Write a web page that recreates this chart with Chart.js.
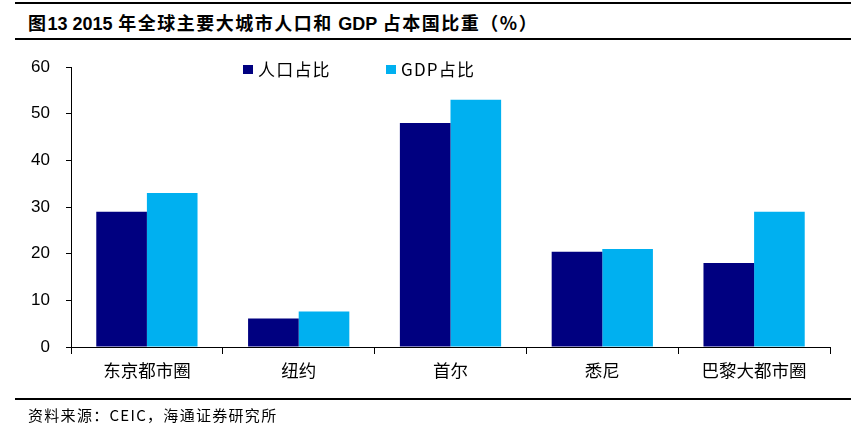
<!DOCTYPE html>
<html>
<head>
<meta charset="utf-8">
<script src="https://cdn.jsdelivr.net/npm/chart.js@4"></script>
<style>
  body { margin: 0; width: 858px; height: 433px; background: #fff; position: relative; overflow: hidden; }
  .rule { position: absolute; left: 15px; width: 836px; background: #000; }
  #title { position: absolute; left: 28px; top: 9px; font: bold 18px "Noto Sans CJK SC", sans-serif; letter-spacing: 1.5px; line-height: 26px; white-space: nowrap; color: #000; }
  #title b { font-family: "Liberation Sans", Arial, sans-serif; letter-spacing: 0; }
  #source { position: absolute; left: 28px; top: 404px; font: 15px "Noto Sans CJK SC", sans-serif; letter-spacing: 1.3px; line-height: 22px; white-space: nowrap; color: #000; }
  #legend { position: absolute; top: 58px; left: 0; font: 17px "Noto Sans CJK SC", sans-serif; line-height: 22px; color: #000; }
  #legend span { position: absolute; white-space: nowrap; letter-spacing: 1.2px; }
  #legend i { position: absolute; width: 10px; height: 9px; top: 7px; }
  #chartBox { position: absolute; left: 0; top: 0; width: 858px; height: 433px; }
</style>
</head>
<body>
<div class="rule" style="top:2px;height:2px"></div>
<div id="title">图<b>13 2015</b> 年全球主要大城市人口和 <b>GDP</b> 占本国比重（%）</div>
<div class="rule" style="top:38px;height:2px"></div>
<div id="chartBox"><canvas id="cityChart" width="858" height="433"></canvas></div>
<div id="legend"></div>
<div class="rule" style="top:398px;height:1.5px"></div>
<div id="source">资料来源：CEIC，海通证券研究所</div>

<script>
// 数据
const cities = ["东京都市圈", "纽约", "首尔", "悉尼", "巴黎大都市圈"];
const popShare = [29, 6.1, 48, 20.4, 18];
const gdpShare = [33, 7.6, 53, 21, 29];
const seriesNames = ["人口占比", "GDP占比"];
const seriesColors = ["#000080", "#00B0F0"];
const yTicks = [0, 10, 20, 30, 40, 50, 60];

// legend (html)
const legendPos = [243, 386];
const legendEl = document.getElementById("legend");
seriesNames.forEach((name, i) => {
  const sq = document.createElement("i");
  sq.style.left = legendPos[i] + "px";
  sq.style.background = seriesColors[i];
  legendEl.appendChild(sq);
  const txt = document.createElement("span");
  txt.style.left = (legendPos[i] + 15) + "px";
  txt.textContent = name;
  legendEl.appendChild(txt);
});

const ctx = document.getElementById("cityChart").getContext("2d");
new Chart(ctx, {
  type: "bar",
  data: {
    labels: cities,
    datasets: [
      { label: seriesNames[0], data: popShare, backgroundColor: seriesColors[0], borderWidth: 0 },
      { label: seriesNames[1], data: gdpShare, backgroundColor: seriesColors[1], borderWidth: 0 }
    ]
  },
  options: {
    responsive: false,
    animation: false,
    layout: { padding: { top: 67, right: 28, left: 0, bottom: 0 } },
    datasets: { bar: { categoryPercentage: 0.667, barPercentage: 1.0 } },
    plugins: { legend: { display: false }, tooltip: { enabled: false } },
    scales: {
      x: {
        offset: true,
        grid: { offset: true, drawOnChartArea: false, tickLength: 7, color: "#000" },
        border: { color: "#000", width: 1 },
        ticks: { color: "#000", padding: 6, font: { family: "Noto Sans CJK SC", size: 17.5 } },
        afterFit(scale) { scale.height = 86; }
      },
      y: {
        min: yTicks[0],
        max: yTicks[yTicks.length - 1],
        afterBuildTicks(scale) { scale.ticks = yTicks.map(v => ({ value: v })); },
        grid: { drawOnChartArea: false, tickLength: 5, color: "#000" },
        border: { color: "#000", width: 1 },
        ticks: { color: "#000", padding: 16, font: { family: "Liberation Sans", size: 17 } },
        afterFit(scale) { scale.width = 71; }
      }
    }
  }
});
</script>
</body>
</html>
